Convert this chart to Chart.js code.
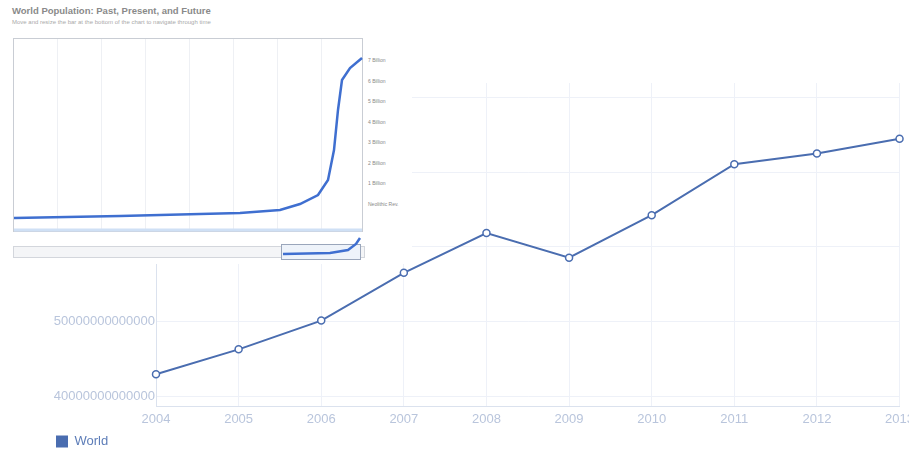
<!DOCTYPE html>
<html>
<head>
<meta charset="utf-8">
<script src="https://cdn.jsdelivr.net/npm/chart.js@4"></script>
<style>
  html, body { margin: 0; padding: 0; background: #fff; overflow: hidden; }
  #wrap { position: absolute; left: 0; top: 0; width: 920px; height: 449px; }
  #inset { position: absolute; left: 0; top: 0; width: 412px; height: 264px; background: #fff;
           font-family: "Liberation Sans", Arial, sans-serif; }
  #inset .t { position: absolute; left: 12px; top: 5px; font-size: 9.5px; font-weight: bold; color: #8a8a8a; white-space: nowrap; }
  #inset .s { position: absolute; left: 12px; top: 19px; font-size: 6px; color: #aaa; white-space: nowrap; }
  #inset .frame { position: absolute; left: 13px; top: 38px; width: 350px; height: 194px;
                  border: 1px solid #c9cdd4; box-sizing: border-box; background:
                  repeating-linear-gradient(90deg, transparent 0 43px, #eef0f4 43px 44px); }
  #inset .leg { position: absolute; left: 368px; top: 50px; font-size: 5px; color: #888; line-height: 20.5px; }
  #inset .bar { position: absolute; left: 13px; top: 246px; width: 352px; height: 12px;
                border: 1px solid #d3d6dc; box-sizing: border-box; background: #f4f5f7; }
  #inset .win { position: absolute; left: 281px; top: 244px; width: 80px; height: 16px;
                border: 1px solid #9aa6bb; box-sizing: border-box; background: #eef3fa; }
  #inset svg { position: absolute; left: 0; top: 0; }
</style>
</head>
<body>
<div id="wrap"><canvas id="c"></canvas></div>
<div id="inset">
  <div class="t">World Population: Past, Present, and Future</div>
  <div class="s">Move and resize the bar at the bottom of the chart to navigate through time</div>
  <div class="frame"></div>
  <div class="leg">7 Billion<br>6 Billion<br>5 Billion<br>4 Billion<br>3 Billion<br>2 Billion<br>1 Billion<br>Neolithic Rev.</div>
  <div class="bar"></div>
  <div class="win"></div>
  <svg width="412" height="264" aria-hidden="true">
    <path d="M14 218 L120 216 L240 213 L280 210 L300 204 L318 195 L328 180 L334 150 L338 110 L342 80 L350 68 L362 58" fill="none" stroke="#3f6fd0" stroke-width="2.5"/>
    <path d="M283 254 L330 253 L348 250 L356 244 L360 238" fill="none" stroke="#3f6fd0" stroke-width="2.5"/>
    <line x1="14" y1="230" x2="362" y2="230" stroke="#cfe0f5" stroke-width="3"/>
  </svg>
</div>
<script>
const years = ["2004","2005","2006","2007","2008","2009","2010","2011","2012","2013"];
const worldValues = [4.293e13, 4.627e13, 5.013e13, 5.653e13, 6.187e13, 5.857e13, 6.427e13, 7.111e13, 7.253e13, 7.453e13];
const yTicks = [4e13, 5e13, 6e13, 7e13, 8e13];
const seriesName = "World";

const tickColor = "#b9c5dc";
const gridColor = "#eef1f8";
const lineColor = "#4a6db0";

const shiftLegend = {
  id: "shiftLegend",
  afterLayout(chart) {
    if (chart.legend) { chart.legend.left += 54; chart.legend.top += 9; }
  }
};

new Chart(document.getElementById("c"), {
  type: "line",
  data: {
    labels: years,
    datasets: [{
      label: seriesName,
      data: worldValues,
      borderColor: lineColor,
      backgroundColor: lineColor,
      borderWidth: 2,
      pointRadius: 3.5,
      pointBorderWidth: 1.5,
      pointBackgroundColor: "#fff",
      pointBorderColor: lineColor,
      tension: 0
    }]
  },
  plugins: [shiftLegend],
  options: {
    responsive: true,
    maintainAspectRatio: false,
    animation: false,
    layout: { padding: { top: 83, left: 0, right: 0, bottom: 0 } },
    plugins: {
      tooltip: { enabled: false },
      legend: {
        position: "bottom",
        align: "start",
        labels: {
          boxWidth: 12, boxHeight: 12, padding: 2,
          color: "#5d7db8",
          font: { family: "'Liberation Sans', Arial, sans-serif", size: 13 },
          generateLabels: (chart) => [{
            text: seriesName, fillStyle: lineColor, strokeStyle: lineColor, fontColor: "#5d7db8",
            lineWidth: 0, datasetIndex: 0
          }]
        }
      }
    },
    scales: {
      x: {
        offset: false,
        grid: { color: gridColor, drawTicks: false },
        border: { color: "#dbe2ee" },
        ticks: { color: tickColor, padding: 6, maxRotation: 0,
                 font: { family: "'Liberation Sans', Arial, sans-serif", size: 13 } },
        afterFit: (s) => { s.height = 18; }
      },
      y: {
        min: 3.867e13,
        max: 8.2e13,
        grid: { color: gridColor, drawTicks: false },
        border: { color: "#dbe2ee" },
        afterBuildTicks: (s) => { s.ticks = yTicks.map(v => ({ value: v })); },
        afterFit: (s) => { s.width = 156; },
        ticks: { color: tickColor, padding: 1,
                 font: { family: "'Liberation Sans', Arial, sans-serif", size: 13 },
                 callback: (v) => BigInt(Math.round(v)).toString() }
      }
    }
  }
});
</script>
</body>
</html>
